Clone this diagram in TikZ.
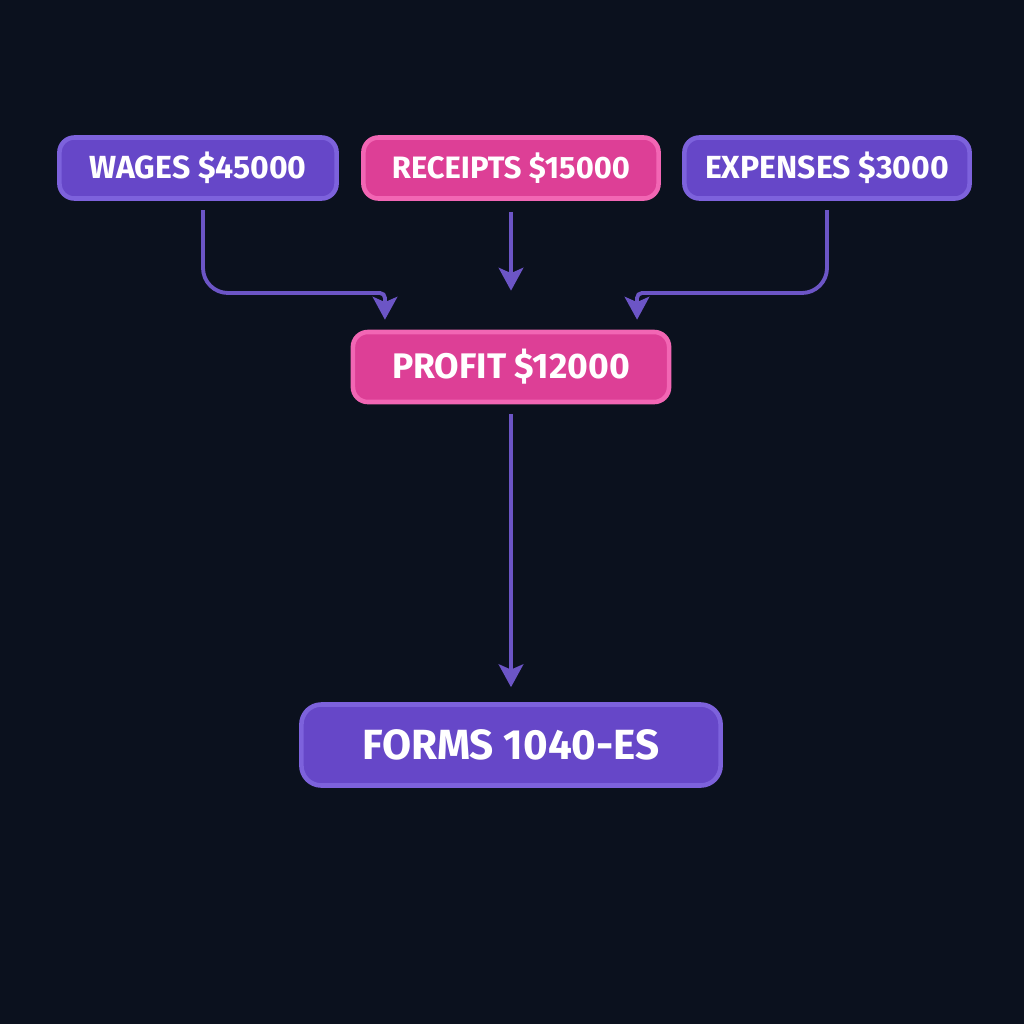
\documentclass[tikz,border=0pt]{standalone}
\usepackage{fontspec}
\setmainfont{Fira Sans}
\usetikzlibrary{arrows.meta}

\definecolor{bgdark}{HTML}{0B111E}
\definecolor{boxpurple}{HTML}{6647C8}
\definecolor{edgepurple}{HTML}{7D62DC}
\definecolor{boxpink}{HTML}{DD3F96}
\definecolor{edgepink}{HTML}{F266B4}
\definecolor{flowline}{HTML}{6C55C6}

\tikzset{
  box/.style={rounded corners=0.15cm, line width=1.3pt, inner sep=0pt, text=white},
  purplebox/.style={box, fill=boxpurple, draw=edgepurple},
  pinkbox/.style={box, fill=boxpink, draw=edgepink},
  flow/.style={draw=flowline, line width=1.1pt, -{Stealth[length=6.5pt,width=7pt,inset=1.5pt]}}
}

\begin{document}
\begin{tikzpicture}[x=0.01cm,y=-0.01cm]
\fill[bgdark] (0,0) rectangle (1024,1024);
\useasboundingbox (0,0) rectangle (1024,1024);

\node[purplebox, minimum width=2.77cm, minimum height=0.61cm, font=\fontsize{9.1}{11}\bfseries] (wages) at (198,168) {WAGES \$45000};
\node[pinkbox, minimum width=2.95cm, minimum height=0.61cm, font=\fontsize{8.8}{11}\bfseries] (receipts) at (511,168) {RECEIPTS \$15000};
\node[purplebox, minimum width=2.85cm, minimum height=0.61cm, font=\fontsize{9.1}{11}\bfseries] (expenses) at (827,168) {EXPENSES \$3000};

\node[pinkbox, minimum width=3.16cm, minimum height=0.70cm, font=\fontsize{10.1}{12}\bfseries] (profit) at (511,367) {PROFIT \$12000};

\node[purplebox, rounded corners=0.2cm, minimum width=4.19cm, minimum height=0.81cm, font=\fontsize{12}{14}\bfseries] (forms) at (511,745) {FORMS 1040-ES};

\coordinate (w1) at (203,210);
\coordinate (w2) at (203,293);
\coordinate (w3) at (385,293);
\coordinate (e1) at (827,210);
\coordinate (e2) at (827,293);
\coordinate (e3) at (637,293);

\draw[flow] (w1) [rounded corners=0.25cm] -- (w2) [rounded corners=0.05cm] -- (w3) -- ([xshift=-1.26cm,yshift=0.1cm]profit.north);
\draw[flow] ([yshift=-0.11cm]receipts.south) -- ([yshift=0.39cm]profit.north);
\draw[flow] (e1) [rounded corners=0.25cm] -- (e2) [rounded corners=0.05cm] -- (e3) -- ([xshift=1.26cm,yshift=0.1cm]profit.north);
\draw[flow] ([yshift=-0.1cm]profit.south) -- ([yshift=0.15cm]forms.north);

\end{tikzpicture}
\end{document}
